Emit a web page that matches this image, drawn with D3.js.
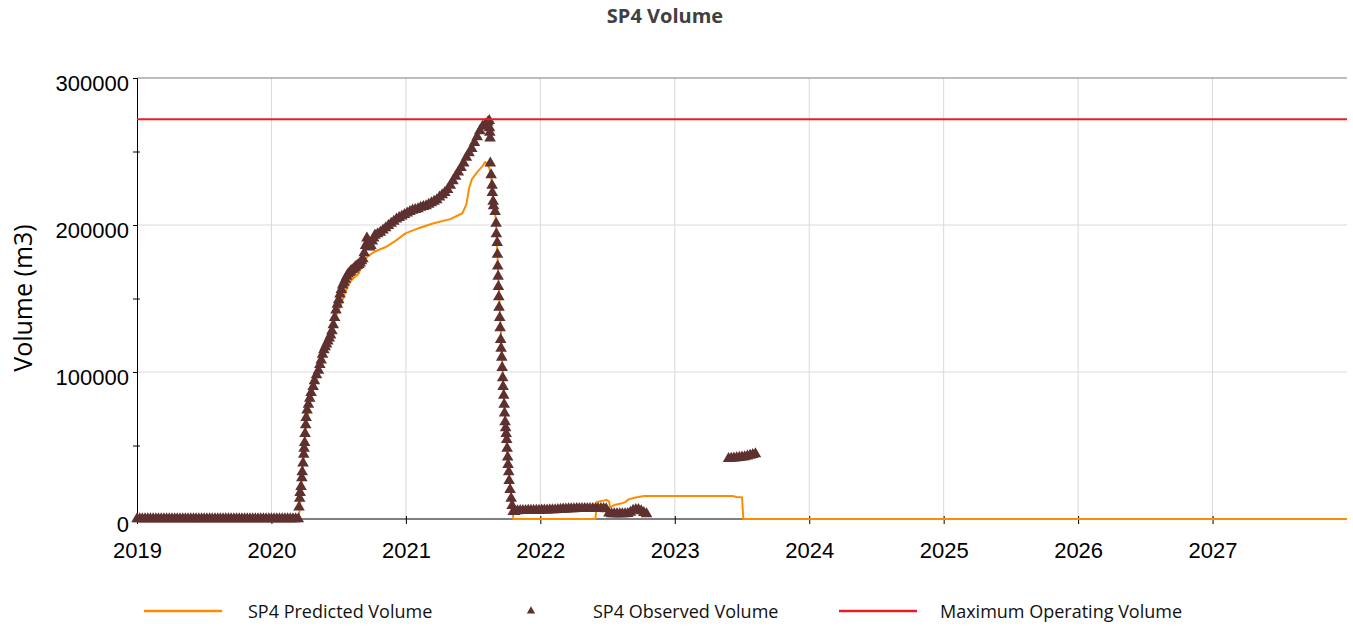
<!DOCTYPE html>
<html><head><meta charset="utf-8">
<script src="https://cdn.jsdelivr.net/npm/d3@7"></script>
<style>
body{margin:0;background:#fff}
svg{display:block}
text{font-family:'Open Sans','Noto Sans',sans-serif}
</style>
</head><body>
<svg id="chart" width="1353" height="630"></svg>
<script>
// ---------- DATA (decimal year, volume m3) ----------
const chartTitle = "SP4 Volume";
const yAxisTitle = "Volume (m3)";
const yearTicks = [2019, 2020, 2021, 2022, 2023, 2024, 2025, 2026, 2027];
const yMajorTicks = [0, 100000, 200000, 300000];
const yMinorTicks = [50000, 150000, 250000];
const maxOperatingVolume = 272000;
const seriesNames = ["SP4 Predicted Volume", "SP4 Observed Volume", "Maximum Operating Volume"];

const predicted = [
  [2019.00,0],[2020.20,0],[2020.21,6000],[2020.22,20000],[2020.24,42000],[2020.26,66000],
  [2020.30,85000],[2020.35,100000],[2020.40,115000],[2020.45,128000],[2020.48,138000],
  [2020.51,144000],[2020.54,152000],[2020.57,159000],[2020.60,163000],[2020.65,167000],
  [2020.68,175000],[2020.72,179000],[2020.77,182000],[2020.85,185000],[2020.92,189000],
  [2021.00,194500],[2021.10,198000],[2021.20,201000],[2021.33,204000],[2021.42,208000],
  [2021.45,214000],[2021.47,225000],[2021.49,231000],[2021.53,236000],[2021.57,240000],
  [2021.59,243000],[2021.62,239000],[2021.635,232000],[2021.65,216000],[2021.67,203000],
  [2021.70,140000],[2021.73,80000],[2021.76,37000],[2021.79,8000],[2021.80,0],
  [2022.41,0],[2022.42,11600],[2022.47,12500],[2022.49,13000],[2022.51,12000],[2022.52,8000],
  [2022.55,9500],[2022.60,10500],[2022.63,11500],[2022.66,13500],[2022.70,14500],
  [2022.77,15600],[2023.43,15600],[2023.46,15000],[2023.50,14800],[2023.51,0],[2028.00,0]
];

const observed = [
  // flat at zero
  [2019.00,0],[2019.02,0],[2019.04,0],[2019.06,0],[2019.08,0],[2019.10,0],[2019.12,0],[2019.14,0],
  [2019.16,0],[2019.18,0],[2019.20,0],[2019.22,0],[2019.24,0],[2019.26,0],[2019.28,0],[2019.30,0],
  [2019.32,0],[2019.34,0],[2019.36,0],[2019.38,0],[2019.40,0],[2019.42,0],[2019.44,0],[2019.46,0],
  [2019.48,0],[2019.50,0],[2019.52,0],[2019.54,0],[2019.56,0],[2019.58,0],[2019.60,0],[2019.62,0],
  [2019.64,0],[2019.66,0],[2019.68,0],[2019.70,0],[2019.72,0],[2019.74,0],[2019.76,0],[2019.78,0],
  [2019.80,0],[2019.82,0],[2019.84,0],[2019.86,0],[2019.88,0],[2019.90,0],[2019.92,0],[2019.94,0],
  [2019.96,0],[2019.98,0],[2020.00,0],[2020.02,0],[2020.04,0],[2020.06,0],[2020.08,0],[2020.10,0],
  [2020.12,0],[2020.14,0],[2020.16,0],[2020.18,0],[2020.20,0],
  // filling
  [2020.205,8000],[2020.210,14000],[2020.213,18000],[2020.220,22000],[2020.226,28000],[2020.229,32000],
  [2020.235,38000],[2020.240,44000],[2020.243,48000],[2020.247,52000],[2020.250,58000],[2020.255,64000],
  [2020.258,69000],[2020.265,74000],[2020.275,78000],[2020.285,82000],[2020.295,86000],[2020.31,90000],
  [2020.32,94000],[2020.335,98000],[2020.35,101000],[2020.36,105000],[2020.37,108000],[2020.38,112000],
  [2020.39,115000],[2020.40,117000],[2020.41,119000],[2020.42,121000],[2020.43,123000],[2020.44,125000],
  [2020.45,128000],[2020.46,132000],[2020.47,137000],[2020.48,142000],[2020.49,146000],[2020.50,149000],
  [2020.51,153000],[2020.52,156000],[2020.53,159000],[2020.54,161000],[2020.55,163000],[2020.56,165000],
  [2020.57,166500],[2020.58,167500],[2020.59,168500],[2020.60,169500],[2020.61,170000],[2020.62,171000],
  [2020.63,172000],[2020.64,172500],[2020.65,173000],[2020.66,174000],[2020.67,175500],[2020.68,177000],
  [2020.69,181000],[2020.70,186000],[2020.71,191000],[2020.72,189000],[2020.73,185000],[2020.74,186000],
  [2020.75,189000],[2020.76,191000],[2020.77,193000],[2020.79,194000],[2020.81,195000],[2020.83,196500],
  [2020.85,198000],[2020.87,199500],[2020.89,201000],[2020.91,202500],[2020.93,204000],[2020.95,205000],
  [2020.97,206000],[2020.99,207000],[2021.01,208000],[2021.03,209000],[2021.05,210000],[2021.07,210500],
  [2021.09,211000],[2021.11,212000],[2021.13,212500],[2021.15,213000],[2021.17,214000],[2021.19,215000],
  [2021.21,216000],[2021.23,217000],[2021.25,219000],[2021.27,220500],[2021.29,222000],[2021.31,224000],
  [2021.33,227000],[2021.35,230000],[2021.37,233000],[2021.39,236000],[2021.41,239000],[2021.43,242000],
  [2021.45,246000],[2021.47,249000],[2021.49,252000],[2021.51,256000],[2021.53,260000],[2021.55,264000],
  [2021.57,267000],[2021.59,268500],[2021.61,270000],[2021.62,271000],[2021.622,266000],[2021.624,263000],
  [2021.626,259000],
  // drawdown
  [2021.628,242000],[2021.634,234000],[2021.641,227000],[2021.643,222000],[2021.649,216000],[2021.652,213000],
  [2021.664,209000],[2021.671,201000],[2021.673,194000],[2021.679,188000],[2021.681,180000],[2021.683,172000],
  [2021.686,165000],[2021.688,158000],[2021.691,151000],[2021.693,144000],[2021.698,137000],[2021.701,130000],
  [2021.705,122000],[2021.708,116000],[2021.713,110000],[2021.716,103000],[2021.720,96000],[2021.723,90000],
  [2021.728,84000],[2021.731,78000],[2021.734,72000],[2021.738,66000],[2021.742,62000],[2021.746,58000],
  [2021.750,54000],[2021.753,48000],[2021.757,42000],[2021.760,37000],[2021.765,32000],[2021.768,26000],
  [2021.775,20000],[2021.783,14000],[2021.790,9000],[2021.798,5000],
  // low level
  [2021.81,5000],[2021.83,5500],[2021.85,5600],[2021.87,5700],[2021.89,5700],[2021.91,5800],[2021.93,5800],
  [2021.95,5800],[2021.97,5900],[2021.99,5900],[2022.01,6000],[2022.03,6000],[2022.05,6000],[2022.07,6100],
  [2022.09,6100],[2022.11,6200],[2022.13,6300],[2022.15,6500],[2022.17,6600],[2022.19,6700],[2022.21,6800],
  [2022.23,6900],[2022.25,6900],[2022.27,7000],[2022.29,7000],[2022.31,7000],[2022.33,7000],[2022.35,7000],
  [2022.37,7000],[2022.39,7000],[2022.41,7000],[2022.43,7000],[2022.45,7000],[2022.47,7000],[2022.49,6800],
  [2022.51,4000],[2022.53,3500],[2022.55,3500],[2022.57,3500],[2022.59,3500],[2022.61,3500],[2022.63,3500],
  [2022.65,3600],[2022.67,4500],[2022.69,5800],[2022.71,6300],[2022.73,6300],[2022.75,5500],[2022.77,4300],
  [2022.79,3500],
  // 2023 readings
  [2023.40,41000],[2023.42,41200],[2023.44,41400],[2023.46,41600],[2023.48,41800],[2023.50,42000],
  [2023.52,42300],[2023.54,42700],[2023.56,43200],[2023.58,43700],[2023.60,44200]
];

// ---------- LAYOUT ----------
const plot = {left: 137, right: 1347, top: 78, bottom: 519};
const colPred = "#ff8c00", colObs = "#5e3030", colMax = "#ed1c24";
const tickFont = "'Liberation Sans',Arial,sans-serif";

const svg = d3.select("#chart");
const x = d3.scaleLinear().domain([2019, 2028]).range([plot.left, plot.right]);
const y = d3.scaleLinear().domain([0, 300000]).range([plot.bottom, plot.top]);

// gridlines
svg.append("g").selectAll("line").data(yearTicks.filter(d => d > 2019)).join("line")
  .attr("x1", d => x(d)).attr("x2", d => x(d))
  .attr("y1", plot.top).attr("y2", plot.bottom)
  .attr("stroke", "#d9d9d9").attr("stroke-width", 1);
svg.append("g").selectAll("line").data(yMajorTicks.filter(d => d > 0 && d < 300000)).join("line")
  .attr("x1", plot.left).attr("x2", plot.right)
  .attr("y1", d => y(d)).attr("y2", d => y(d))
  .attr("stroke", "#d9d9d9").attr("stroke-width", 1);
// top border
svg.append("line").attr("x1", plot.left).attr("x2", plot.right)
  .attr("y1", y(300000)).attr("y2", y(300000))
  .attr("stroke", "#7f7f7f").attr("stroke-width", 1.2);

// axes
const fmt = d3.format("d");
const yAxis = svg.append("g").attr("transform", `translate(${plot.left},0)`)
  .call(d3.axisLeft(y).tickValues(yMajorTicks).tickSize(4).tickPadding(4).tickFormat(fmt));
yAxis.selectAll("text").attr("font-size", 22).attr("dy", "0.55em").attr("fill", "#000")
  .style("font-family", tickFont);
const yMinor = svg.append("g").attr("transform", `translate(${plot.left},0)`)
  .call(d3.axisLeft(y).tickValues(yMinorTicks).tickSize(4).tickFormat(""));
const yMinorR = svg.append("g").attr("transform", `translate(${plot.left},0)`)
  .call(d3.axisRight(y).tickValues(yMinorTicks).tickSize(3).tickFormat(""));
yMinorR.select(".domain").remove();
yMinor.select(".domain").remove();

const xAxis = svg.append("g").attr("transform", `translate(0,${plot.bottom})`)
  .call(d3.axisBottom(x).tickValues(yearTicks).tickSize(5).tickPadding(18).tickFormat(fmt));
xAxis.selectAll("text").attr("font-size", 22).attr("fill", "#000")
  .style("font-family", tickFont);
const xInner = svg.append("g").attr("transform", `translate(0,${plot.bottom})`)
  .call(d3.axisTop(x).tickValues(yearTicks).tickSize(3).tickFormat(""));
xInner.select(".domain").remove();
xAxis.select(".domain").attr("d", `M${plot.left},0H${plot.right}`);
svg.selectAll(".tick line").attr("stroke", "#000");
svg.selectAll(".domain").attr("stroke", "#000");

// predicted line
svg.append("path").datum(predicted)
  .attr("fill", "none").attr("stroke", colPred).attr("stroke-width", 2)
  .attr("stroke-linejoin", "round")
  .attr("d", d3.line().x(d => x(d[0])).y(d => y(d[1])));

// observed triangles
const tri = d3.symbol().type(d3.symbolTriangle).size(58);
svg.append("g").selectAll("path").data(observed).join("path")
  .attr("d", tri)
  .attr("transform", d => `translate(${x(d[0])},${y(d[1])})`)
  .attr("fill", colObs);

// max operating volume
svg.append("line").attr("x1", plot.left).attr("x2", plot.right)
  .attr("y1", y(maxOperatingVolume)).attr("y2", y(maxOperatingVolume))
  .attr("stroke", colMax).attr("stroke-width", 2);

// titles
svg.append("text").attr("x", 665).attr("y", 23).attr("text-anchor", "middle")
  .attr("font-size", 20).attr("font-weight", "bold").attr("fill", "#404040").text(chartTitle);
svg.append("text").attr("transform", "translate(22,298) rotate(-90)")
  .attr("text-anchor", "middle").attr("dominant-baseline", "central")
  .attr("font-size", 25).attr("fill", "#000").text(yAxisTitle);

// legend
const lg = svg.append("g");
const ly = 611;
lg.append("line").attr("x1", 144).attr("x2", 222).attr("y1", ly).attr("y2", ly)
  .attr("stroke", colPred).attr("stroke-width", 2.5);
lg.append("text").attr("x", 248).attr("y", ly).attr("dominant-baseline", "central")
  .attr("font-size", 18).attr("fill", "#111").text(seriesNames[0]);
lg.append("path").attr("d", d3.symbol().type(d3.symbolTriangle).size(30))
  .attr("transform", `translate(531,${ly})`).attr("fill", colObs);
lg.append("text").attr("x", 593).attr("y", ly).attr("dominant-baseline", "central")
  .attr("font-size", 18).attr("fill", "#111").text(seriesNames[1]);
lg.append("line").attr("x1", 839).attr("x2", 917).attr("y1", ly).attr("y2", ly)
  .attr("stroke", colMax).attr("stroke-width", 2.5);
lg.append("text").attr("x", 940).attr("y", ly).attr("dominant-baseline", "central")
  .attr("font-size", 18).attr("fill", "#111").text(seriesNames[2]);
</script>
</body></html>
